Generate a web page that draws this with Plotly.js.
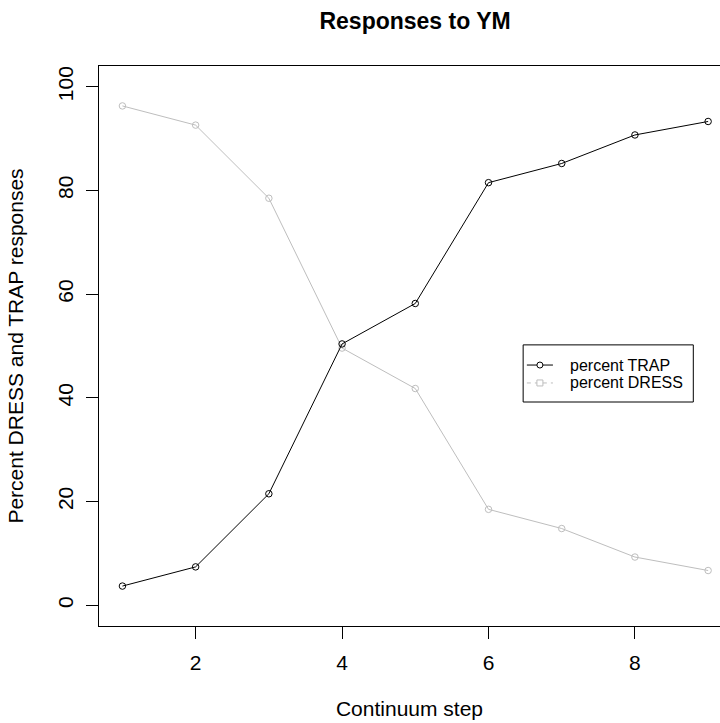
<!DOCTYPE html>
<html>
<head>
<meta charset="utf-8">
<script src="https://cdn.plot.ly/plotly-3.0.1.min.js"></script>
<style>
  html, body { margin: 0; padding: 0; background: #ffffff; overflow: hidden; }
  #chart { width: 720px; height: 723px; }
</style>
</head>
<body>
<div id="chart"></div>
<script>
// Data
const steps = [1, 2, 3, 4, 5, 6, 7, 8, 9];
const percentTRAP = [3.7, 7.4, 21.5, 50.4, 58.2, 81.5, 85.2, 90.7, 93.3];
const percentDRESS = [96.3, 92.6, 78.5, 49.6, 41.8, 18.5, 14.8, 9.3, 6.7];
const xTicks = [2, 4, 6, 8];
const yTicks = [0, 20, 40, 60, 80, 100];
const seriesNames = ['percent TRAP', 'percent DRESS'];

const FONT = 'Liberation Sans, Arial, Helvetica, sans-serif';
const TRAP_COLOR = '#000000';
const DRESS_COLOR = '#bebebe';

const traces = [
  {
    x: steps, y: percentDRESS, name: seriesNames[1], type: 'scatter', mode: 'lines+markers',
    line: {color: DRESS_COLOR, width: 1},
    marker: {symbol: 'circle-open', size: 6.5, color: DRESS_COLOR, line: {width: 1, color: DRESS_COLOR}},
    showlegend: false, hoverinfo: 'x+y+name'
  },
  {
    x: steps, y: percentTRAP, name: seriesNames[0], type: 'scatter', mode: 'lines+markers',
    line: {color: TRAP_COLOR, width: 1},
    marker: {symbol: 'circle-open', size: 6.5, color: TRAP_COLOR, line: {width: 1, color: TRAP_COLOR}},
    showlegend: false, hoverinfo: 'x+y+name'
  }
];

// Manual legend (R-style box legend)
const lg = {x0: 0.683, x1: 0.957, y0: 0.400, y1: 0.502, rows: [0.466, 0.434],
            lineX0: 0.689, lineX1: 0.731, markX: 0.710, textX: 0.755};
const shapes = [
  {type: 'rect', xref: 'paper', yref: 'paper', x0: lg.x0, x1: lg.x1, y0: lg.y0, y1: lg.y1,
   line: {color: '#000000', width: 1}, fillcolor: 'rgba(255,255,255,1)', layer: 'above'},
  {type: 'line', xref: 'paper', yref: 'paper', x0: lg.lineX0, x1: lg.lineX1, y0: lg.rows[0], y1: lg.rows[0],
   line: {color: TRAP_COLOR, width: 1}, layer: 'above'},
  {type: 'circle', xref: 'paper', yref: 'paper', xsizemode: 'pixel', ysizemode: 'pixel',
   xanchor: lg.markX, yanchor: lg.rows[0], x0: -3, x1: 3, y0: -3, y1: 3,
   line: {color: TRAP_COLOR, width: 1}, fillcolor: '#ffffff', layer: 'above'},
  {type: 'line', xref: 'paper', yref: 'paper', x0: lg.lineX0, x1: lg.lineX1, y0: lg.rows[1], y1: lg.rows[1],
   line: {color: DRESS_COLOR, width: 1, dash: '4px,4px'}, layer: 'above'},
  {type: 'rect', xref: 'paper', yref: 'paper', xsizemode: 'pixel', ysizemode: 'pixel',
   xanchor: lg.markX, yanchor: lg.rows[1], x0: -3, x1: 3, y0: -3, y1: 3,
   line: {color: DRESS_COLOR, width: 1}, fillcolor: '#ffffff', layer: 'above'}
];
const annotations = seriesNames.map((name, i) => ({
  xref: 'paper', yref: 'paper', x: lg.textX, y: lg.rows[i], xanchor: 'left', yanchor: 'middle',
  text: name, showarrow: false, font: {family: FONT, size: 16, color: '#000000'}
}));

const layout = {
  width: 720, height: 723,
  margin: {l: 99, r: 0, t: 66, b: 97, pad: 0},
  paper_bgcolor: '#ffffff', plot_bgcolor: '#ffffff',
  font: {family: FONT, size: 21, color: '#000000'},
  title: {
    text: 'Responses to YM', xref: 'paper', x: 0.509, xanchor: 'center',
    yref: 'container', y: 0.971, yanchor: 'middle',
    font: {family: FONT, size: 23, color: '#000000', weight: 'bold'}
  },
  xaxis: {
    range: [0.68, 9.162], tickvals: xTicks, ticktext: xTicks.map(String),
    ticks: 'outside', ticklen: 12, tickwidth: 1, tickcolor: '#000000',
    showline: true, linecolor: '#000000', linewidth: 1, mirror: true,
    showgrid: false, zeroline: false, automargin: false,
    tickfont: {family: FONT, size: 21, color: '#000000'}, ticklabelstandoff: 6,
    title: {text: 'Continuum step', font: {family: FONT, size: 21, color: '#000000'}, standoff: 28}
  },
  yaxis: {
    range: [-4, 104], tickvals: yTicks, ticktext: yTicks.map(String), tickangle: -90,
    ticks: 'outside', ticklen: 12, tickwidth: 1, tickcolor: '#000000',
    showline: true, linecolor: '#000000', linewidth: 1, mirror: false,
    showgrid: false, zeroline: false, automargin: false,
    tickfont: {family: FONT, size: 21, color: '#000000'}, ticklabelstandoff: 5,
    title: {text: 'Percent DRESS and TRAP responses', font: {family: FONT, size: 21, color: '#000000'}, standoff: 24}
  },
  shapes: shapes,
  annotations: annotations,
  showlegend: false
};

Plotly.newPlot('chart', traces, layout, {displayModeBar: false, staticPlot: true});
</script>
</body>
</html>
